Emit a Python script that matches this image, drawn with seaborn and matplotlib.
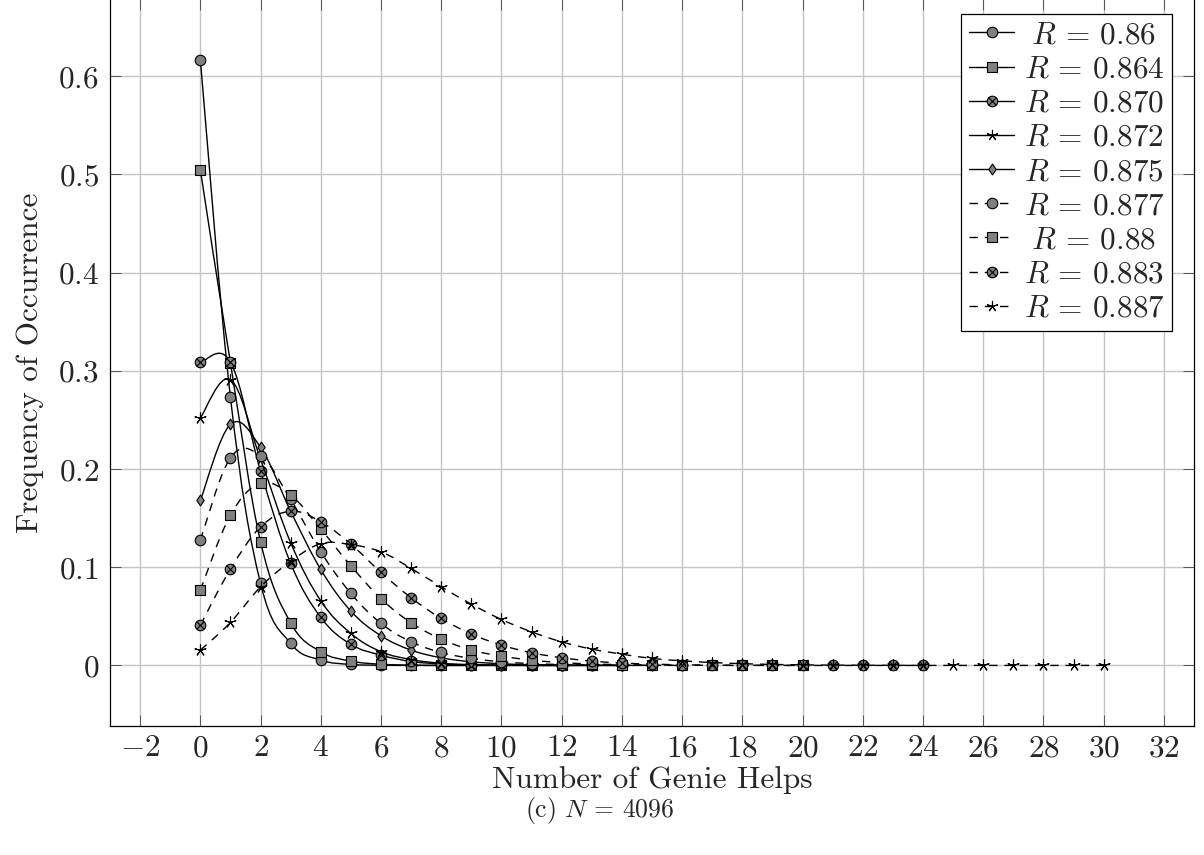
import numpy as np
import pandas as pd
import matplotlib
matplotlib.use("Agg")
import matplotlib.pyplot as plt
import seaborn as sns
from matplotlib.path import Path
from matplotlib.patches import PathPatch
from matplotlib.lines import Line2D
from matplotlib.legend_handler import HandlerTuple

# ---- data: frequency of each number of genie helps, per R value ----
r_values = ["0.86", "0.864", "0.870", "0.872", "0.875", "0.877", "0.88", "0.883", "0.887"]

freq_086 = [0.617, 0.273, 0.0835, 0.0224, 0.0054, 0.0010, 0.0002, 0, 0, 0, 0, 0, 0]
freq_0864 = [0.505, 0.308, 0.126, 0.0434, 0.0139, 0.0044, 0.0012, 0.0003, 0, 0, 0, 0, 0, 0]
freq_0870 = [0.3086, 0.309, 0.198, 0.104, 0.0489, 0.0214, 0.0105, 0.0040, 0.0015, 0.0005,
             0.0002, 0, 0, 0, 0]
freq_0872 = [0.252, 0.291, 0.210, 0.125, 0.0658, 0.0326, 0.0140, 0.0060, 0.0022, 0.0008,
             0.0003, 0.0001, 0, 0, 0]
freq_0875 = [0.168, 0.2454, 0.222, 0.157, 0.0977, 0.0553, 0.0302, 0.0156, 0.0078, 0.0037,
             0.0017, 0.0007, 0.0003, 0.0001, 0, 0]
freq_0877 = [0.1276, 0.2114, 0.2134, 0.169, 0.1157, 0.0733, 0.0428, 0.0240, 0.0132, 0.0071,
             0.0037, 0.0019, 0.0009, 0.0004, 0.0002, 0.0001, 0]
freq_088 = [0.0767, 0.153, 0.1853, 0.1734, 0.1388, 0.1014, 0.068, 0.0434, 0.0268, 0.0156,
            0.0095, 0.0053, 0.0029, 0.0015, 0.0008, 0.0004, 0.0002, 0.0001, 0, 0, 0]
freq_0883 = [0.041, 0.098, 0.141, 0.157, 0.1463, 0.1235, 0.0947, 0.0689, 0.0478, 0.0319,
             0.0207, 0.0129, 0.0078, 0.0044, 0.0025, 0.0013, 0.0007, 0.0003, 0.0002, 0.0001,
             0, 0, 0, 0, 0]
freq_0887 = [0.0155, 0.0438, 0.080, 0.106, 0.124, 0.123, 0.1157, 0.0988, 0.080, 0.0624,
             0.0468, 0.0342, 0.024, 0.0166, 0.0115, 0.0071, 0.0047, 0.0029, 0.0018, 0.0010,
             0.0006, 0.0003, 0.0002, 0.0001, 0, 0, 0, 0, 0, 0, 0]

all_freqs = [freq_086, freq_0864, freq_0870, freq_0872, freq_0875,
             freq_0877, freq_088, freq_0883, freq_0887]

x_ticks = list(range(-2, 33, 2))
y_ticks = [0, 0.1, 0.2, 0.3, 0.4, 0.5, 0.6]

frames = []
for r, f in zip(r_values, all_freqs):
    frames.append(pd.DataFrame({"R": r, "helps": np.arange(len(f)), "freq": f}))
df = pd.concat(frames, ignore_index=True)

# ---- style ----
sns.set_style("ticks")
plt.rcParams["font.family"] = ["cmr10", "DejaVu Serif"]
plt.rcParams["mathtext.fontset"] = "cm"
plt.rcParams["axes.formatter.use_mathtext"] = True
plt.rcParams["axes.unicode_minus"] = True

FS = 22.5
GRAY = "#808080"

diamond = Path([(0, 1), (0.68, 0), (0, -1), (-0.68, 0), (0, 1)],
               [Path.MOVETO, Path.LINETO, Path.LINETO, Path.LINETO, Path.CLOSEPOLY])
star5 = (5, 2, 0)

shapes = ["o", "s", "otimes", star5, diamond, "o", "s", "otimes", star5]
dashed = [False] * 5 + [True] * 4
DASH = (0, (6, 5))


def smooth_path(xs, ys, tension=0.55 / 3.0):
    """Cubic Bezier through the points, tangent-continuous like a TikZ smooth plot."""
    pts = np.column_stack([xs, ys]).astype(float)
    n = len(pts)
    verts = [pts[0]]
    codes = [Path.MOVETO]
    for i in range(n - 1):
        p0, p1 = pts[i], pts[i + 1]
        prev = pts[i - 1] if i > 0 else pts[i]
        nxt = pts[i + 2] if i + 2 < n else pts[i + 1]
        c1 = p0 + tension * (p1 - prev)
        c2 = p1 - tension * (nxt - p0)
        verts += [c1, c2, p1]
        codes += [Path.CURVE4] * 3
    return Path(np.array(verts), codes)


fig = plt.figure(figsize=(12.04, 8.55), dpi=100)
ax = fig.add_axes([110 / 1204, 129 / 855, 1084 / 1204, 727 / 855])

handles = []
for i, r in enumerate(r_values):
    sub = df[df["R"] == r]
    ls = DASH if dashed[i] else "-"
    z = 3 + 3 * i
    patch = PathPatch(smooth_path(sub["helps"].values, sub["freq"].values),
                      fill=False, edgecolor="black", linewidth=1.0,
                      linestyle=ls, zorder=z)
    ax.add_patch(patch)

    shape = shapes[i]
    if shape == "otimes":
        sns.scatterplot(data=sub, x="helps", y="freq", ax=ax, marker="o", s=7.6 ** 2,
                        color=GRAY, edgecolor="black", linewidth=0.8, zorder=z + 1,
                        legend=False)
        sns.scatterplot(data=sub, x="helps", y="freq", ax=ax, marker="x", s=5.4 ** 2,
                        color="black", linewidth=0.8, zorder=z + 2, legend=False)
        h1 = Line2D([], [], color="black", lw=1.0, ls=ls, marker="o", ms=7.6,
                    mfc=GRAY, mec="black", mew=0.8)
        h2 = Line2D([], [], ls="none", marker="x", ms=5.4, color="black", mew=0.8)
        handles.append((h1, h2))
    elif shape is star5:
        sns.scatterplot(data=sub, x="helps", y="freq", ax=ax, marker=star5, s=8.0 ** 2,
                        color="black", edgecolor="black", linewidth=0.8, zorder=z + 1,
                        legend=False)
        handles.append(Line2D([], [], color="black", lw=1.0, ls=ls, marker=star5, ms=8.0,
                              mfc="black", mec="black", mew=0.8))
    else:
        size = {"o": 7.6, "s": 7.4}.get(shape, 7.8) if isinstance(shape, str) else 7.8
        sns.scatterplot(data=sub, x="helps", y="freq", ax=ax, marker=shape, s=size ** 2,
                        color=GRAY, edgecolor="black", linewidth=0.8, zorder=z + 1,
                        legend=False)
        handles.append(Line2D([], [], color="black", lw=1.0, ls=ls, marker=shape, ms=size,
                              mfc=GRAY, mec="black", mew=0.8))

# ---- axes ----
ax.set_xlim(-3, 33)
ax.set_ylim(-0.0617, 0.6787)
ax.set_xticks(x_ticks)
ax.set_xticklabels([f"${v}$" if v >= 0 else f"$-{abs(v)}$" for v in x_ticks])
ax.set_yticks(y_ticks)
ax.set_yticklabels(["$0$"] + [f"${v:.1f}$" for v in y_ticks[1:]])
ax.tick_params(axis="x", which="major", pad=6)
ax.tick_params(axis="y", which="major", pad=8)
ax.tick_params(axis="both", which="major", direction="in", length=8, width=0.7,
               color="#555555", labelsize=FS, top=True, right=True)
ax.grid(True, color="#c4c4c4", linewidth=1.0, zorder=0)
ax.set_axisbelow(True)
for sp in ax.spines.values():
    sp.set_visible(True)
    sp.set_color("black")
    sp.set_linewidth(0.9)

ax.set_xlabel("Number of Genie Helps", fontsize=FS, labelpad=3)
ax.set_ylabel("Frequency of Occurrence", fontsize=FS, labelpad=10)

# legend text padded so short labels sit centred like the longer ones
labels = []
for r in r_values:
    if len(r) == 4:
        labels.append(r"$\;R\,=\," + r + r"\;$")
    else:
        labels.append(r"$R\,=\," + r + r"$")

leg = ax.legend(handles, labels, loc="upper right", bbox_to_anchor=(0.98, 0.98),
                borderaxespad=0, fontsize=FS, frameon=True, fancybox=False,
                framealpha=1, edgecolor="black", handlelength=1.45, handletextpad=0.3,
                labelspacing=0.2, borderpad=0.25, numpoints=1,
                handler_map={tuple: HandlerTuple(ndivide=1)})
leg.get_frame().set_linewidth(0.9)
leg.set_zorder(100)

fig.text(0.498, 0.0526, r"(c) $N\,=\,4096$", fontsize=18.5, ha="center", va="center")

fig.savefig("out.png", dpi=100)
